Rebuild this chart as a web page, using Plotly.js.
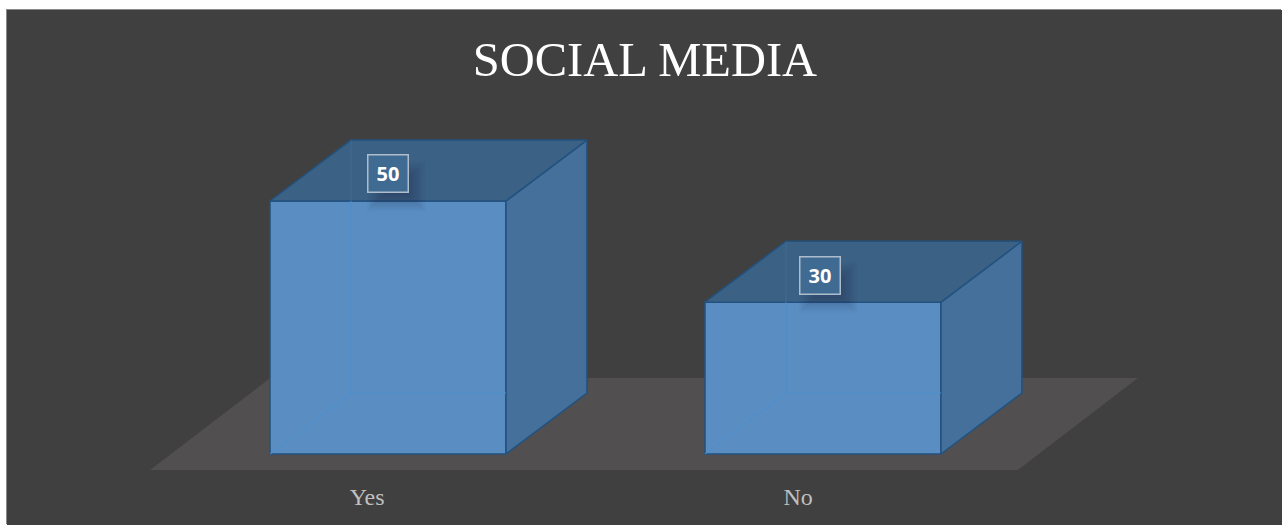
<!DOCTYPE html>
<html>
<head>
<meta charset="utf-8">
<script src="https://cdn.plot.ly/plotly-3.0.1.min.js"></script>
<style>
html,body{margin:0;padding:0;background:#fff;overflow:hidden}
#chart{position:absolute;left:7px;top:10px;width:1275px;height:515px;box-shadow:-1px -1px 0 #8a8a8a}
</style>
</head>
<body>
<div id="chart"></div>
<script>
// ---- data ----
const categories = ['Yes', 'No'];
const values = [50, 30];
const categoryPositions = [0, 1];
const tickPositions = [-0.048, 0.943];
const labelPositions = [-0.001, 0.992];
const chartTitle = 'SOCIAL MEDIA';

// ---- pseudo-3D geometry, in axis units ----
const barWidth = 0.5425;
const depthX = 0.186;
const depthY = 12.05;
const labelRise = 5.35;
const floorFront = -3.16, floorBack = 15.0;
const floorFrontLeft = -0.547, floorFrontRight = 1.448;
const floorBackLeft = -0.271, floorBackRight = 1.724;

// ---- axis scale ----
const W = 1275, H = 515, marginBottom = 45;
const pxPerX = 435, pxPerY = 5.06;   // plot pixels per axis unit
const zeroX = 381, zeroY = 444;      // plot pixel of x=0 and y=0 inside the div
const plotH = H - marginBottom;
const xRange = [-zeroX / pxPerX, (W - zeroX) / pxPerX];
const yRange = [(zeroY - plotH) / pxPerY, zeroY / pxPerY];

// ---- colours ----
const frontColor = '#5a8ec3', sideColor = '#44709b', topColor = '#3b6285';
const edgeColor = '#23527f', innerColor = 'rgba(79,142,203,0.7)', innerTopColor = 'rgba(90,150,205,0.14)';
const floorColor = '#514f4f', bgColor = '#404040';

function face(xs, ys, fill, name) {
  return {type: 'scatter', mode: 'lines', x: xs, y: ys, fill: 'toself', fillcolor: fill,
    line: {color: edgeColor, width: 1.5}, hoverinfo: 'skip', showlegend: false, name: name};
}

const traces = [{
  type: 'bar', x: categoryPositions, y: values, width: barWidth,
  marker: {color: frontColor, line: {color: edgeColor, width: 1.5}},
  hoverinfo: 'skip', showlegend: false
}];

categoryPositions.forEach(function (c, i) {
  const l = c - barWidth / 2, r = c + barWidth / 2, v = values[i];
  traces.push(face([r, r + depthX, r + depthX, r, r], [0, depthY, v + depthY, v, 0], sideColor, 'side'));
  traces.push(face([l, l + depthX, r + depthX, r, l], [v, v + depthY, v + depthY, v, v], topColor, 'top'));
  // hidden back edges, faintly visible through the front and top faces
  traces.push({type: 'scatter', mode: 'lines',
    x: [l, l + depthX, r, null, l + depthX, l + depthX],
    y: [0, depthY, depthY, null, depthY, v],
    line: {color: innerColor, width: 1.5}, hoverinfo: 'skip', showlegend: false});
  traces.push({type: 'scatter', mode: 'lines',
    x: [l + depthX, l + depthX], y: [v, v + depthY],
    line: {color: innerTopColor, width: 1.5}, hoverinfo: 'skip', showlegend: false});
});

const shapes = [{
  type: 'path', xref: 'x', yref: 'y', layer: 'below', line: {width: 0}, fillcolor: floorColor,
  path: 'M' + floorFrontLeft + ',' + floorFront + ' L' + floorFrontRight + ',' + floorFront +
        ' L' + floorBackRight + ',' + floorBack + ' L' + floorBackLeft + ',' + floorBack + ' Z'
}];

// soft label shadow
const shadowDX = 9 / pxPerX, shadowDY = 12 / pxPerY;
labelPositions.forEach(function (p, i) {
  const cy = values[i] + labelRise;
  for (let k = 0; k < 14; k++) {
    const hw = (10 + k * 1.5) / pxPerX, hh = (6 + k * 1.5) / pxPerY;
    shapes.push({type: 'rect', xref: 'x', yref: 'y', layer: 'above', line: {width: 0},
      fillcolor: 'rgba(20,40,60,0.028)',
      x0: p + shadowDX - hw, x1: p + shadowDX + hw,
      y0: cy - shadowDY - hh, y1: cy - shadowDY + hh});
  }
});

const annotations = labelPositions.map(function (p, i) {
  return {x: p, y: values[i] + labelRise, xref: 'x', yref: 'y', text: '<b>' + values[i] + '</b>',
    showarrow: false, width: 39, height: 36, align: 'center', valign: 'middle',
    bgcolor: 'rgb(63,106,146)', bordercolor: '#aebdcb', borderwidth: 1.5, borderpad: 0,
    font: {family: '"Open Sans", sans-serif', size: 20, color: '#ffffff'}};
});

const layout = {
  width: W, height: H,
  margin: {l: 0, r: 0, t: 0, b: marginBottom, pad: 0},
  paper_bgcolor: bgColor, plot_bgcolor: 'rgba(0,0,0,0)',
  title: {text: chartTitle, x: 0.5003, xanchor: 'center', xref: 'paper', y: 0.8955, yanchor: 'middle', yref: 'paper',
    font: {family: '"Liberation Serif", serif', size: 48.5, color: '#ffffff'}},
  xaxis: {range: xRange, tickmode: 'array', tickvals: tickPositions, ticktext: categories,
    showgrid: false, zeroline: false, showline: false, ticks: '', fixedrange: true,
    tickfont: {family: '"Liberation Serif", serif', size: 24, color: '#bfbfbf'}},
  yaxis: {range: yRange, visible: false, fixedrange: true},
  shapes: shapes, annotations: annotations, showlegend: false, hovermode: false
};

Plotly.newPlot('chart', traces, layout, {displayModeBar: false, staticPlot: true});
</script>
</body>
</html>
